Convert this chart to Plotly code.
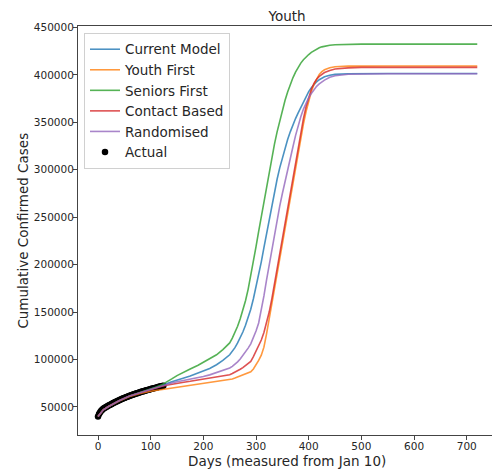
import plotly.graph_objects as go

# Projection days shared by all strategy curves
days = [0, 5, 10, 20, 30, 40, 60, 80, 100, 110, 120, 130, 140, 150, 160, 175, 190, 200,
        212, 225, 237,
        250, 255, 260, 265, 270, 275, 280, 285, 290, 295, 300, 305, 310, 315, 320, 325,
        330, 335, 340, 345, 350, 355, 360, 365, 370, 375, 380, 385, 390, 395, 400, 405,
        410, 415, 420, 425, 430,
        440, 450, 475, 500, 550, 600, 650, 720]

current_model = [40000, 44000, 47000, 50500, 53500, 56500, 61500, 65000, 68700, 70500,
                 72300, 74500, 76500, 78500, 80000, 82500, 85500, 87500, 90500, 94500, 99000,
                 105000, 108500, 112500, 117500, 123000, 129000, 136000, 144000, 153000,
                 164000, 176000, 189000, 203000, 218000, 233000, 248000, 263000, 277000,
                 290000, 302000, 313000, 323000, 332000, 340000, 347500, 354000, 360000,
                 366000, 372000, 377500, 382500, 386500, 390000, 392800, 395000, 396700,
                 398000,
                 399700, 400600, 401300, 401500, 401500, 401500, 401500, 401500]

youth_first = [40000, 44000, 47000, 50500, 53500, 56300, 61000, 64200, 66500, 67300,
               68000, 69000, 69800, 71000, 72000, 73000, 74000, 74700, 75500, 76500, 77500,
               78500, 79500, 80500, 81500, 82500, 83500, 84500, 85300, 87000, 90000, 94000,
               99000, 104500, 113000, 127000, 143000, 158500, 173500, 190000, 206500,
               222500, 238500, 254500, 270500, 286500, 302500, 318500, 334000, 348500,
               361500, 373000, 382500, 390000, 396000, 400500, 403500, 405500,
               407600, 408600, 409300, 409500, 409500, 409500, 409500, 409500]

seniors_first = [40000, 44000, 47000, 50500, 53500, 56500, 61500, 65000, 68800, 70800,
                 73000, 76000, 79500, 83000, 86000, 90000, 94000, 97000, 100500, 105000,
                 110500,
                 117500, 122500, 128000, 135000, 143000, 152000, 162000, 174000, 188000,
                 203000, 219000, 235000, 251000, 267000, 283000, 298000, 313000, 327000,
                 340000, 352000, 363000, 373000, 382000, 390000, 397000, 403000, 408000,
                 412500, 416000, 419000, 421500, 423800, 425700, 427300, 428600, 429600,
                 430300,
                 431300, 431800, 432300, 432500, 432500, 432500, 432500, 432500]

contact_based = [40000, 44000, 47000, 50500, 53500, 56500, 61500, 65000, 68500, 70000,
                 71500, 72800, 74000, 75000, 75800, 77000, 78300, 79000, 80000, 81500, 82700,
                 84000, 85200, 86500, 88000, 89700, 91500, 93500, 95500, 98000, 103000,
                 108500, 114500, 120500, 128500, 138000, 150000, 164000, 180000, 197000,
                 213000, 229000, 245000, 261000, 277000, 293000, 309000, 325000, 340000,
                 354000, 366500, 377000, 385000, 391000, 395500, 398500, 400800, 402500,
                 404800, 406200, 407500, 408000, 408000, 408000, 408000, 408000]

randomised = [40000, 44000, 47000, 50500, 53500, 56500, 61500, 65000, 68600, 70300,
              72000, 73800, 75300, 76500, 77500, 79000, 80800, 82000, 83800, 86000, 88200,
              91000, 92800, 95000, 97500, 100500, 104000, 108000, 112000, 116500, 122500,
              130000, 138500, 151000, 167000, 184000, 200500, 216500, 232000, 247000,
              261700, 275000, 288000, 300500, 312500, 324000, 336000, 346500, 356000,
              364000, 370500, 376000, 380500, 384500, 388000, 390500, 392700, 394500,
              397500, 399200, 400800, 401200, 401300, 401300, 401300, 401300]

# Reported cumulative cases (every second day)
actual_days = list(range(0, 125, 2))
actual_cases = [40000, 42500, 44500, 46000, 47000, 48000, 48800, 49500, 50200, 50800,
                51400, 52000, 52600, 53200, 53800, 54400, 55000, 55500, 56000, 56600,
                57100, 57600, 58100, 58600, 59100, 59500, 60000, 60400, 60800, 61200,
                61700, 62100, 62500, 62900, 63300, 63700, 64100, 64400, 64800, 65200,
                65500, 65900, 66200, 66500, 66900, 67200, 67500, 67800, 68100, 68500,
                68800, 69100, 69400, 69700, 70000, 70300, 70600, 70900, 71200, 71500,
                71800, 72100, 72400]

series = [
    ("Current Model", current_model, "#1f77b4"),
    ("Youth First", youth_first, "#ff7f0e"),
    ("Seniors First", seniors_first, "#2ca02c"),
    ("Contact Based", contact_based, "#d62728"),
    ("Randomised", randomised, "#9467bd"),
]

x_ticks = [0, 100, 200, 300, 400, 500, 600, 700]
y_ticks = [50000, 100000, 150000, 200000, 250000, 300000, 350000, 400000, 450000]

FONT = "DejaVu Sans"
TEXT = "#262626"
SPINE = "#444"

fig = go.Figure()

fig.add_trace(go.Scatter(
    x=actual_days, y=actual_cases, mode="markers", name="Actual",
    marker=dict(color="black", size=6.5), legendrank=6,
))

for i, (name, vals, color) in enumerate(series):
    fig.add_trace(go.Scatter(
        x=days, y=vals, mode="lines", name=name,
        line=dict(color=color, width=1.6),
        opacity=0.8, legendrank=i + 1,
    ))

fig.update_layout(
    width=492, height=472,
    margin=dict(l=78, r=0, t=26, b=37),
    paper_bgcolor="white", plot_bgcolor="white",
    font=dict(family=FONT, color=TEXT, size=11),
    title=dict(text="Youth", x=0.505, xref="paper", xanchor="center",
               y=1 - 16 / 472, yref="container", yanchor="middle",
               font=dict(size=13.5, color=TEXT)),
    legend=dict(x=0.0145, y=0.983, xanchor="left", yanchor="top",
                bgcolor="white", bordercolor="#d0d0d0", borderwidth=1,
                font=dict(size=13.5, color=TEXT), tracegroupgap=0),
    showlegend=True,
)

fig.update_xaxes(
    range=[-38, 748], tickvals=x_ticks, showgrid=False, zeroline=False,
    showline=True, linecolor=SPINE, linewidth=1, mirror=True,
    ticks="outside", ticklen=4, tickcolor=SPINE, tickfont=dict(size=10.5),
    ticklabelstandoff=-3,
)
fig.update_yaxes(
    range=[20400, 451600], tickvals=y_ticks, tickformat="d", showgrid=False,
    zeroline=False, showline=True, linecolor=SPINE, linewidth=1,
    ticks="outside", ticklen=4, tickcolor=SPINE, tickfont=dict(size=10.5),
    ticklabelstandoff=-3,
)

fig.add_annotation(text="Days (measured from Jan 10)", xref="paper", yref="paper",
                   x=0.505, y=-0.0636, xanchor="center", yanchor="middle",
                   showarrow=False, font=dict(size=13.5, color=TEXT))
fig.add_annotation(text="Cumulative Confirmed Cases", xref="paper", yref="paper",
                   x=-0.135, y=0.5, xanchor="center", yanchor="middle", textangle=-90,
                   showarrow=False, font=dict(size=13.5, color=TEXT))

fig.write_html("out.html")
